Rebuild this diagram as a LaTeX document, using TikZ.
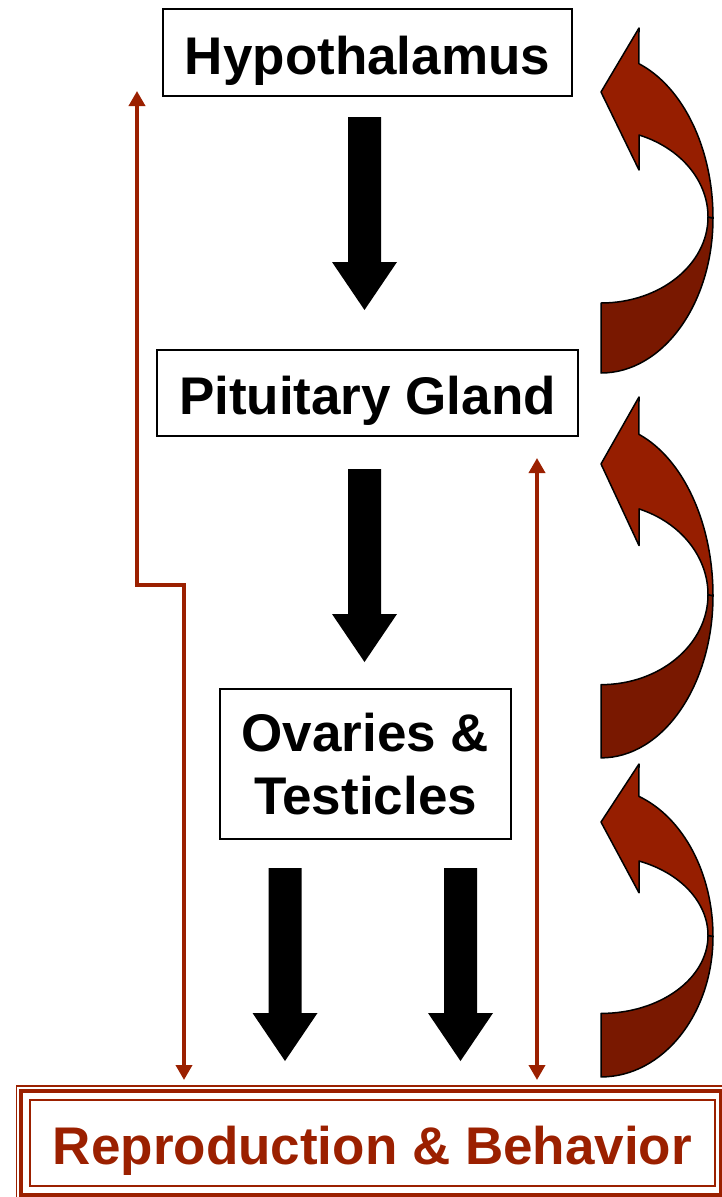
\documentclass[tikz,border=0pt]{standalone}
\usepackage{fontspec}
\setmainfont{Liberation Sans}
\usetikzlibrary{arrows.meta,calc}
\definecolor{fbred}{RGB}{155,32,0}
\definecolor{cabright}{RGB}{150,30,0}
\definecolor{cadark}{RGB}{121,24,0}
\begin{document}
\begin{tikzpicture}[x=1pt,y=-1pt,
  box/.style={draw=black, line width=2pt, fill=white, inner sep=0pt,
    font=\fontsize{53}{63}\selectfont\bfseries, align=center},
  onetext/.style={text height=43pt, text depth=0pt},
  fb/.style={draw=fbred, line width=3.6pt,
    {Triangle[width=16pt,length=15pt]}-{Triangle[width=16pt,length=15pt]}},
  blockarrow/.pic={\fill[black] (-16.5,0) -- (16.5,0) -- (16.5,145) -- (32.5,145)
      -- (0,193) -- (-32.5,145) -- (-16.5,145) -- cycle;},
  curvedarrow/.pic={
    \filldraw[fill=cadark, draw=black, line width=1.5pt, line join=round]
      (601,345) arc[start angle=90, end angle=0, x radius=112, y radius=155]
      -- (708,189) arc[start angle=0, end angle=90, x radius=107, y radius=86] -- cycle;
    \filldraw[fill=cabright, draw=black, line width=1.5pt, line join=round]
      (713,190) arc[start angle=0, end angle=-70.2, x radius=112, y radius=164]
      -- (639,0) -- (601,64) -- (639,142) -- (639,107)
      arc[start angle=-69.2, end angle=0, x radius=107, y radius=87.7] -- cycle;
  }
]
\useasboundingbox (0,0) rectangle (721,1197);

% boxes
\node[box, onetext, minimum width=409pt, minimum height=87pt] (hyp) at (367.5,52.5) {Hypothalamus};
\node[box, onetext, minimum width=421pt, minimum height=86pt] (pit) at (367.5,393) {Pituitary Gland};
\node[box, minimum width=291pt, minimum height=150pt] (ova) at (365.5,764) {Ovaries \&\\Testicles};
\node[box, onetext, draw=fbred, text=fbred, minimum width=685pt, minimum height=86pt] (repro) at (372.5,1142.5) {Reproduction \& Behavior};
\draw[fbred, line width=4.5pt] ($(repro.north west)+(-8,-7.5)$) rectangle ($(repro.south east)+(5,8.5)$);
\draw[fbred, line width=1.8pt] ($(repro.north west)+(-12.5,-12.5)$) rectangle ($(repro.south east)+(12,12.5)$);

% block arrows
\pic at (364.5,117) {blockarrow};
\pic at (364.5,469) {blockarrow};
\pic at (285,868) {blockarrow};
\pic at (460.5,868) {blockarrow};

% curved arrows
\pic at (0,28) {curvedarrow};
\pic[yscale=1.046] at (0,397) {curvedarrow};
\pic[yscale=0.907] at (0,764) {curvedarrow};

% feedback connectors
\coordinate (lTop) at (137,91);
\coordinate (lBend) at (184,585);
\coordinate (lBot) at (184,1080);
\coordinate (rTop) at (537,458);
\coordinate (rBot) at (537,1080);
\draw[fb] (lTop) |- (lBend) -- (lBot);
\draw[fb] (rTop) -- (rBot);
\end{tikzpicture}
\end{document}
